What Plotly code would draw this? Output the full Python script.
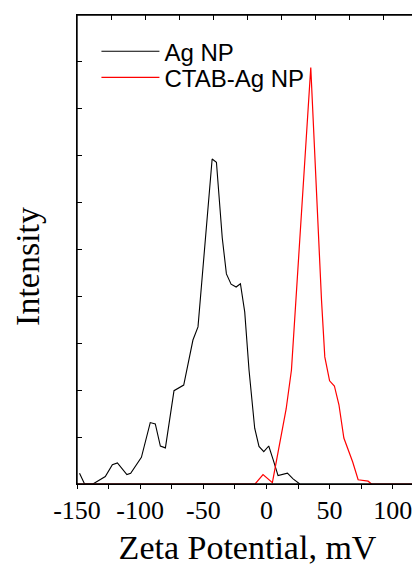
import plotly.graph_objects as go

# Ag NP (black) zeta potential distribution
ag_x = [-148, -144, -137.4, -130.7, -127.6, -122, -118, -110.5, -107.5, -99, -92, -88, -84, -80,
        -73.2, -65.5, -58.2, -54.2, -43, -39.6, -35, -31.7, -28, -24, -20.6, -17.2, -13.8, -9.3,
        -5.9, -2.1, 1.8, 5.3, 9.2, 16.6, 21.1, 26.4]
ag_y = [0.23, 0, 0, 0.11, 0.16, 0.41, 0.45, 0.2, 0.23, 0.57, 1.31, 1.28, 0.81, 0.77,
        1.99, 2.11, 3.07, 3.35, 6.93, 6.86, 5.25, 4.48, 4.26, 4.2, 4.27, 3.67, 2.43, 1.19,
        0.8, 0.69, 0.81, 0.52, 0.18, 0.23, 0.11, 0.0]

# CTAB-Ag NP (red) zeta potential distribution
ctab_x = [-150, -9, -2.7, 4.7, 15.6, 19.8, 35.1, 41.5, 43.6, 46.2, 50, 53.8, 57.4, 61.3,
          68.3, 72.6, 80.5, 83.2, 120]
ctab_y = [0, 0, 0.2, 0.03, 1.6, 2.43, 8.88, 4.95, 3.92, 2.71, 2.2, 2.09, 1.69, 0.98,
          0.47, 0.09, 0.06, 0, 0]

x_tickvals = [-150, -100, -50, 0, 50, 100]
x_ticktext = ["-150", "-100", "-50", "0", "50", "100"]

serif = "Liberation Serif, Times New Roman, serif"
sans = "Liberation Sans, Arial, sans-serif"

fig = go.Figure()
fig.add_trace(go.Scatter(x=ag_x, y=ag_y, mode="lines", name="Ag NP", legend="legend",
                         line=dict(color="#000000", width=1.1)))
fig.add_trace(go.Scatter(x=ctab_x, y=ctab_y, mode="lines", name="CTAB-Ag NP", legend="legend2",
                         line=dict(color="#ff0000", width=1.2)))
# helper trace without any drawn point, only so the top frame axis (10 divisions) is rendered
fig.add_trace(go.Scatter(x=[None], y=[None], xaxis="x2", yaxis="y", showlegend=False,
                         hoverinfo="skip", mode="lines"))

legend_common = dict(xanchor="left", yanchor="middle", itemwidth=58,
                     font=dict(family=sans, size=24, color="#000"),
                     bgcolor="rgba(0,0,0,0)")

fig.update_layout(
    width=412, height=558,
    margin=dict(l=69, r=2, t=7, b=82),
    paper_bgcolor="white", plot_bgcolor="white",
    showlegend=True,
    legend=dict(x=0.057, y=0.922, **legend_common),
    legend2=dict(x=0.057, y=0.866, **legend_common),
    xaxis=dict(range=[-150, 120], tickvals=x_tickvals, ticktext=x_ticktext,
               ticks="outside", ticklen=4, tickwidth=1, tickcolor="#000",
               minor=dict(dtick=25, tick0=-150, ticks="outside", ticklen=4, tickcolor="#000"),
               showline=True, linecolor="#000", linewidth=1.3,
               showgrid=False, zeroline=False,
               tickfont=dict(family=serif, size=26, color="#000"), ticklabelstandoff=-1,
               title=dict(text="Zeta Potential, mV", font=dict(family=serif, size=34, color="#000"),
                          standoff=10)),
    xaxis2=dict(range=[0, 10], dtick=1, overlaying="x", side="top", anchor="y",
                ticks="inside", ticklen=5, tickwidth=1.2, tickcolor="#000", showticklabels=False,
                showline=True, linecolor="#000", linewidth=1.3, showgrid=False, zeroline=False),
    yaxis=dict(range=[0, 10], dtick=1, ticks="inside", ticklen=5, tickwidth=1.2, tickcolor="#000",
               showticklabels=False, showline=True, mirror="ticks", linecolor="#000",
               linewidth=1.3, showgrid=False, zeroline=False),
    shapes=[dict(type="rect", xref="paper", yref="paper", x0=0, x1=1, y0=0, y1=1,
                 line=dict(color="#000", width=1.4), fillcolor="rgba(0,0,0,0)", layer="above")],
    annotations=[dict(text="Intensity", textangle=-90, xref="paper", yref="paper",
                      x=-0.145, y=0.464, xanchor="center", yanchor="middle", showarrow=False,
                      font=dict(family=serif, size=34, color="#000"))],
)

fig.write_html("out.html")
